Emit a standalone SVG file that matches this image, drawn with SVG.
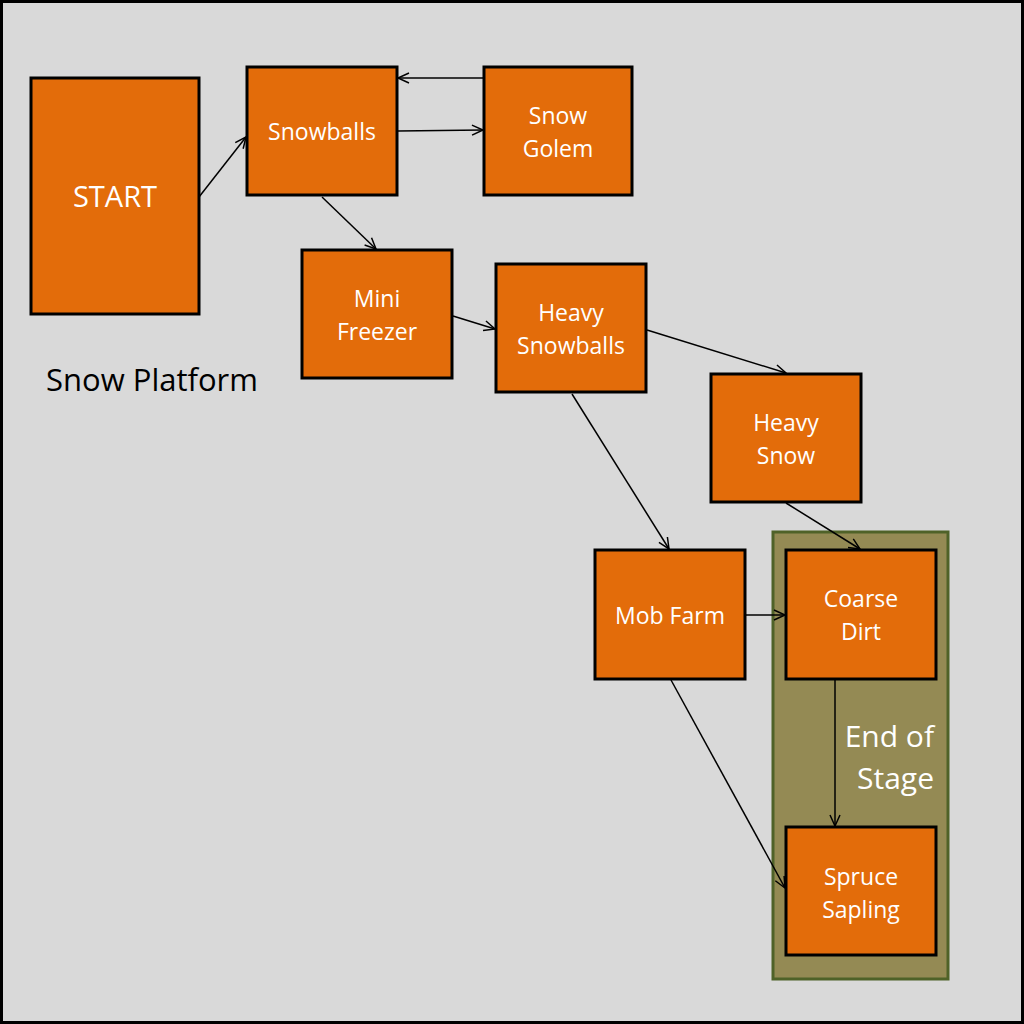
<svg xmlns="http://www.w3.org/2000/svg" width="1024" height="1024" viewBox="0 0 1024 1024">
<style>
.node rect{fill:#e36c0a;stroke:#000;stroke-width:3}
.node text{fill:#fff;font-family:"Open Sans","Liberation Sans",sans-serif;font-size:23px;text-anchor:middle}
.node text.big{font-size:29px}
.conn line{stroke:#000;stroke-width:1.5;marker-end:url(#arr)}
</style>
<defs>
<marker id="arr" markerWidth="14" markerHeight="12" refX="12" refY="6" orient="auto" markerUnits="userSpaceOnUse">
<path d="M1,1 L12,6 L1,11" fill="none" stroke="#000" stroke-width="1.5"/>
</marker>
</defs>
<rect x="1.5" y="1.5" width="1021" height="1021" fill="#d9d9d9" stroke="#000" stroke-width="3"/>
<g id="end-of-stage">
<rect x="773" y="532" width="175" height="447" fill="#948a54" stroke="#4f6228" stroke-width="3"/>
<text x="934" y="747" fill="#fff" font-family="'Open Sans','Liberation Sans',sans-serif" font-size="30" text-anchor="end">End of</text>
<text x="934" y="789" fill="#fff" font-family="'Open Sans','Liberation Sans',sans-serif" font-size="30" text-anchor="end">Stage</text>
</g>
<text id="snow-platform" x="46" y="391" fill="#000" font-family="'Open Sans','Liberation Sans',sans-serif" font-size="31">Snow Platform</text>
<g class="conn" id="connectors">
<line x1="199" y1="197" x2="246" y2="137"/>
<line x1="484" y1="78" x2="398" y2="78"/>
<line x1="398" y1="131" x2="483" y2="130"/>
<line x1="322" y1="197" x2="376" y2="249"/>
<line x1="453" y1="316" x2="495" y2="329"/>
<line x1="647" y1="330" x2="786" y2="373"/>
<line x1="572" y1="394" x2="669" y2="549"/>
<line x1="786" y1="503" x2="860" y2="549"/>
<line x1="746" y1="615" x2="785" y2="615"/>
<line x1="835" y1="680" x2="835" y2="826"/>
<line x1="671" y1="680" x2="785" y2="888"/>
</g>
<g class="node" id="start"><rect x="31" y="78" width="168" height="236"/><text class="big" x="115" y="207">START</text></g>
<g class="node" id="snowballs"><rect x="247" y="67" width="150" height="128"/><text x="322" y="140">Snowballs</text></g>
<g class="node" id="snow-golem"><rect x="484" y="67" width="148" height="128"/><text x="558" y="124">Snow</text><text x="558" y="157">Golem</text></g>
<g class="node" id="mini-freezer"><rect x="302" y="250" width="150" height="128"/><text x="377" y="307">Mini</text><text x="377" y="340">Freezer</text></g>
<g class="node" id="heavy-snowballs"><rect x="496" y="264" width="150" height="128"/><text x="571" y="321">Heavy</text><text x="571" y="354">Snowballs</text></g>
<g class="node" id="heavy-snow"><rect x="711" y="374" width="150" height="128"/><text x="786" y="431">Heavy</text><text x="786" y="464">Snow</text></g>
<g class="node" id="mob-farm"><rect x="595" y="550" width="150" height="129"/><text x="670" y="624">Mob Farm</text></g>
<g class="node" id="coarse-dirt"><rect x="786" y="550" width="150" height="129"/><text x="861" y="607">Coarse</text><text x="861" y="640">Dirt</text></g>
<g class="node" id="spruce-sapling"><rect x="786" y="827" width="150" height="128"/><text x="861" y="885">Spruce</text><text x="861" y="918">Sapling</text></g>
</svg>
